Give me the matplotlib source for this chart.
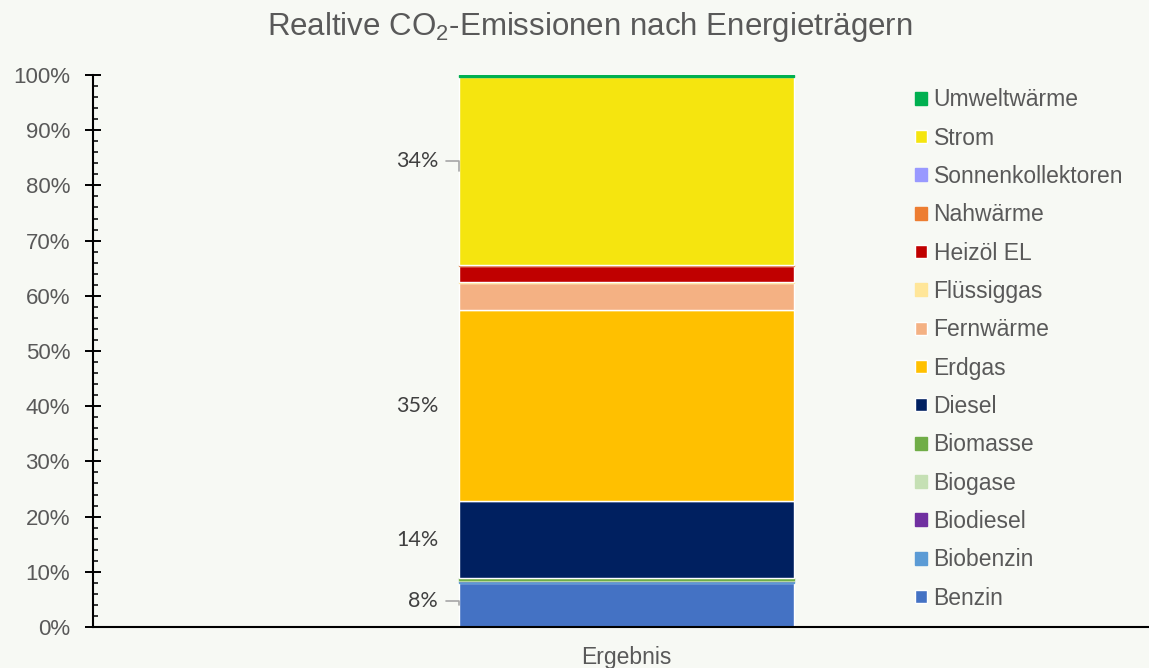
"""
Stacked bar of the relative CO2 emissions per energy carrier.
"""

import matplotlib
matplotlib.use("Agg")
import matplotlib.pyplot as plt
from matplotlib.ticker import MultipleLocator, PercentFormatter


CARRIERS = ["Benzin", "Biobenzin", "Biodiesel", "Biogase", "Biomasse",
            "Diesel", "Erdgas", "Fernwärme", "Flüssiggas", "Heizöl EL",
            "Nahwärme", "Sonnenkollektoren", "Strom", "Umweltwärme"]
SHARES = [8.0, 0.35, 0.05, 0.2, 0.3,
          13.9, 34.6, 5.0, 0.05, 3.0,
          0.05, 0.0, 34.2, 0.3]
COLORS = ["#4472C4", "#5B9BD5", "#7030A0", "#C5E0B4", "#70AD47",
          "#002060", "#FFC000", "#F4B183", "#FFE699", "#C00000",
          "#ED7D31", "#9999FF", "#F5E50F", "#00B050"]
CATEGORY = "Ergebnis"

# Which segments get a data label, and the label text
LABELS = {"Benzin": "8%", "Diesel": "14%", "Erdgas": "35%", "Strom": "34%"}

BG = "#F7F9F4"
GREY = "#595959"


def main():
    plt.rcParams["font.family"] = ["Liberation Sans", "DejaVu Sans"]
    plt.rcParams["mathtext.fontset"] = "custom"
    plt.rcParams["mathtext.rm"] = "Liberation Sans"

    fig = plt.figure(figsize=(11.49, 6.68), dpi=100, facecolor=BG)
    ax = fig.add_axes([93 / 1149, 1 - 627 / 668, 1056 / 1149, 552 / 668])
    ax.set_facecolor(BG)

    width = 0.317
    bottom = 0.0
    handles = []
    for name, value, color in zip(CARRIERS, SHARES, COLORS):
        # tiny slices show up as a coloured line, the rest get a white border
        edge = "white" if value > 1 else color
        bar = ax.bar(0, value, width=width, bottom=bottom, color=color,
                     edgecolor=edge, linewidth=1.0, label=name)
        handles.append(bar)

        # data labels sit left of the bar
        if name in LABELS:
            mid = bottom + value / 2
            left = -width / 2
            style = dict(ha="right", va="center", fontsize=15.5,
                         family="Lato", color="#404040")
            if name in ("Strom", "Benzin"):
                dy = 7 if name == "Strom" else 3
                ax.annotate(LABELS[name], xy=(left, mid),
                            xytext=(-15, dy), textcoords="offset points",
                            arrowprops=dict(arrowstyle="-", color="#A6A6A6",
                                            lw=1.2, relpos=(1, 0.5),
                                            shrinkA=4, shrinkB=0,
                                            connectionstyle="angle,angleA=0,angleB=90,rad=0"),
                            **style)
            else:
                ax.annotate(LABELS[name], xy=(left, mid),
                            xytext=(-15, 0), textcoords="offset points",
                            **style)
        bottom += value

    ax.set_xlim(-0.505, 0.495)
    ax.set_ylim(0, 100)
    ax.set_xticks([0])
    ax.set_xticklabels([CATEGORY])

    ax.yaxis.set_major_locator(MultipleLocator(10))
    ax.yaxis.set_minor_locator(MultipleLocator(2))
    ax.yaxis.set_major_formatter(PercentFormatter(decimals=0))
    ax.tick_params(axis="y", which="major", direction="inout", length=11,
                   width=1.4, labelsize=16, labelcolor=GREY, pad=11)
    ax.tick_params(axis="y", which="minor", direction="in", length=3.5,
                   width=1.1)
    ax.tick_params(axis="x", length=0, labelsize=16.5, labelcolor=GREY,
                   pad=14)

    for side in ("top", "right"):
        ax.spines[side].set_visible(False)
    ax.spines["left"].set_linewidth(1.5)
    ax.spines["bottom"].set_linewidth(1.5)

    fig.suptitle(r"Realtive CO$_2$-Emissionen nach Energieträgern",
                 x=590 / 1149, y=1 - 27 / 668, va="center",
                 fontsize=22.5, color=GREY)

    ax.legend(handles[::-1], CARRIERS[::-1],
              loc="upper left", bbox_to_anchor=(906 / 1149, 1 - 79 / 668),
              bbox_transform=fig.transFigure, frameon=False,
              fontsize=16.5, labelcolor=GREY, handlelength=0.5,
              handleheight=0.5, handletextpad=0.3,
              labelspacing=0.67, borderaxespad=0)

    fig.savefig("out.png", dpi=100, facecolor=BG)


if __name__ == "__main__":
    main()
